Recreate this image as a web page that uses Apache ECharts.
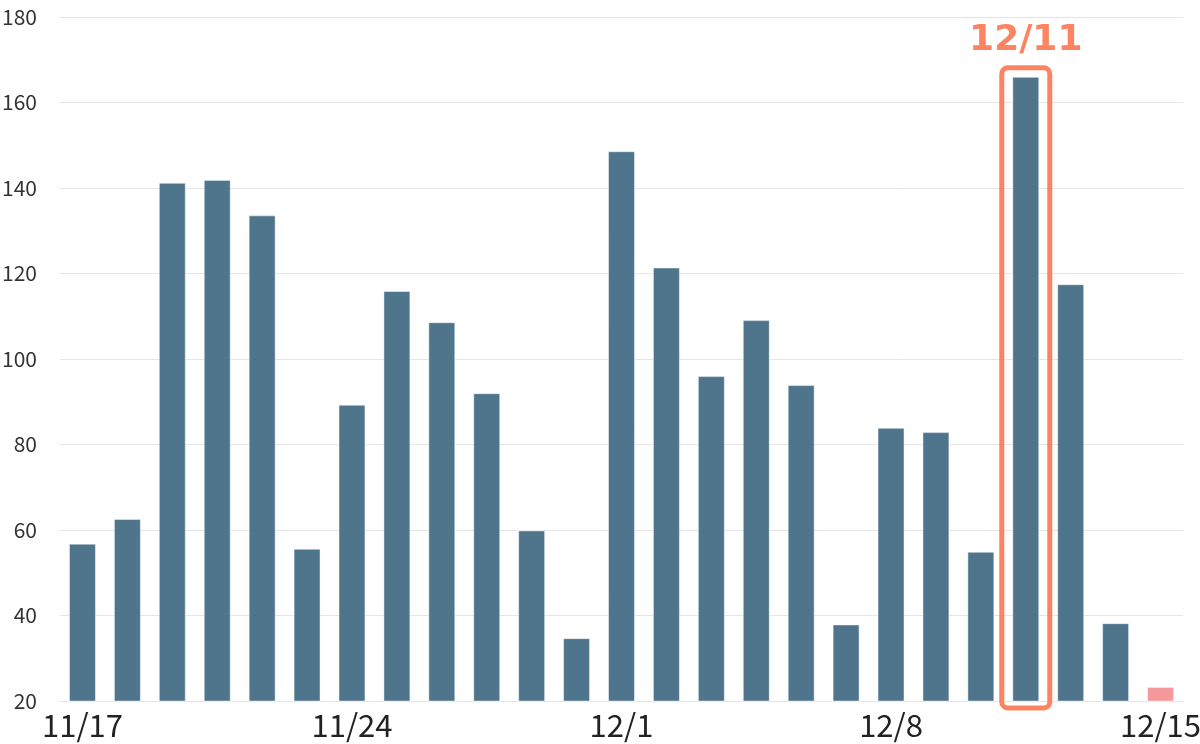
<!DOCTYPE html>
<html>
<head>
<meta charset="utf-8">
<script src="https://cdn.jsdelivr.net/npm/echarts@6/dist/echarts.min.js"></script>
<style>
html,body{margin:0;padding:0;background:#fff;}
#chart{width:1200px;height:744px;}
</style>
</head>
<body>
<div id="chart"></div>
<script>
// Categories (Saturdays absent in the source data)
const categories = ['11/17','11/18','11/19','11/20','11/21','11/22','11/24','11/25','11/26','11/27','11/28','11/29',
  '12/1','12/2','12/3','12/4','12/5','12/6','12/8','12/9','12/10','12/11','12/12','12/13','12/15'];
const values = [56.8, 62.6, 141.2, 141.9, 133.6, 55.6, 89.3, 115.9, 108.6, 92.0, 59.9, 34.7,
  148.6, 121.4, 96.0, 109.1, 93.9, 37.9, 83.9, 82.9, 54.9, 166.0, 117.5, 38.2, 23.3];
const highlightCategory = '12/11';
const partialCategory = '12/15';
const yTicks = { min: 20, max: 180, interval: 20 };

const barColor = '#4f758d';
const partialColor = '#f4989b';
const accent = '#fd8361';

const chart = echarts.init(document.getElementById('chart'), null, { renderer: 'canvas' });

const seriesData = values.map((v, i) => ({
  value: v,
  itemStyle: { color: categories[i] === partialCategory ? partialColor : barColor }
}));

chart.setOption({
  animation: false,
  backgroundColor: '#ffffff',
  grid: { left: 60, right: 17, top: 17, bottom: 43, containLabel: false, outerBoundsMode: 'none' },
  xAxis: {
    type: 'category',
    data: categories,
    boundaryGap: true,
    axisLine: { show: true, lineStyle: { color: '#e6e6e6', width: 1 } },
    axisTick: { show: false },
    axisLabel: {
      interval: 5,
      color: '#222',
      fontSize: 31,
      fontFamily: 'Noto Sans CJK JP',
      margin: 9
    },
    splitLine: { show: false }
  },
  yAxis: {
    type: 'value',
    min: yTicks.min,
    max: yTicks.max,
    interval: yTicks.interval,
    axisLine: { show: false },
    axisTick: { show: false },
    axisLabel: { color: '#333', fontSize: 21, fontFamily: 'Noto Sans CJK JP', margin: 23 },
    splitLine: { lineStyle: { color: '#e6e6e6', width: 1 } }
  },
  series: [{
    type: 'bar',
    data: seriesData,
    barWidth: '60%',
    itemStyle: { borderColor: 'rgba(255,255,255,0.45)', borderWidth: 1 }
  }]
});

// Annotation box around the highlighted bar, positioned from the axes
const hiIdx = categories.indexOf(highlightCategory);
const cx = chart.convertToPixel({ gridIndex: 0 }, [hiIdx, values[hiIdx]])[0];
const topY = chart.convertToPixel({ yAxisIndex: 0 }, values[hiIdx]);
const baseY = chart.convertToPixel({ yAxisIndex: 0 }, yTicks.min);
const boxW = 48;
chart.setOption({
  graphic: [
    {
      type: 'rect',
      shape: { x: cx - boxW / 2, y: topY - 9, width: boxW, height: (baseY + 7) - (topY - 9), r: 6 },
      style: { fill: 'none', stroke: accent, lineWidth: 5 },
      z: 100
    },
    {
      type: 'text',
      x: cx,
      y: topY - 18,
      style: {
        text: highlightCategory,
        fill: accent,
        font: 'bold 36px "DejaVu Sans"',
        textAlign: 'center',
        textVerticalAlign: 'bottom'
      },
      z: 100
    }
  ]
});
</script>
</body>
</html>
